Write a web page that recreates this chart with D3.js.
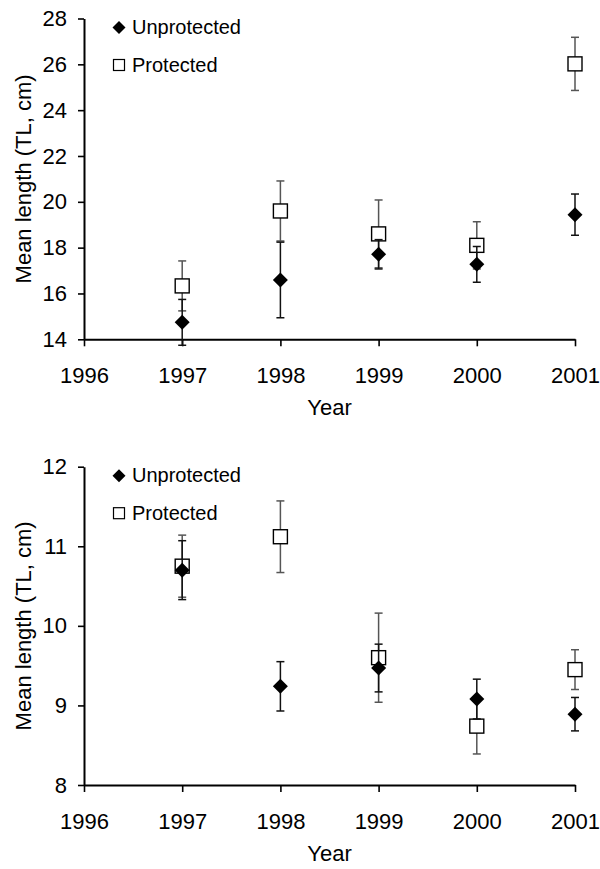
<!DOCTYPE html>
<html>
<head>
<meta charset="utf-8">
<script src="https://cdn.jsdelivr.net/npm/d3@7"></script>
<style>
  body { margin: 0; background: #fff; }
  text { font-family: "Liberation Sans", Arial, sans-serif; fill: #000; }
</style>
</head>
<body>
<svg width="600" height="869"></svg>
<script>
// data
var years = [1997, 1998, 1999, 2000, 2001];
var xTicks = [1996, 1997, 1998, 1999, 2000, 2001];

var topUnprot = [14.74, 16.59, 17.71, 17.27, 19.44];
var topUnprotErr = [1.00, 1.65, 0.64, 0.78, 0.90];
var topProt = [16.33, 19.60, 18.60, 18.10, 26.02];
var topProtErr = [1.09, 1.31, 1.48, 1.03, 1.16];
var topTicks = [14, 16, 18, 20, 22, 24, 26, 28];

var botUnprot = [10.70, 9.24, 9.47, 9.08, 8.89];
var botUnprotErr = [0.37, 0.31, 0.30, 0.25, 0.21];
var botProt = [10.75, 11.12, 9.60, 8.74, 9.45];
var botProtErr = [0.39, 0.45, 0.56, 0.35, 0.25];
var botTicks = [8, 9, 10, 11, 12];

var svg = d3.select("svg");

//diamond marker shape
function diamond(r) {
  return "M0," + (-r) + "L" + r + ",0L0," + r + "L" + (-r) + ",0Z";
}

function panel(opt) {
  var x = d3.scaleLinear().domain([1996, 2001]).range([84, 575]);
  var y = d3.scaleLinear().domain(opt.yDomain).range(opt.yRange);
  var g = svg.append("g");

  //x axis
  var xa = g.append("g")
    .attr("transform", "translate(0," + opt.yRange[0] + ")")
    .call(d3.axisBottom(x).tickValues(xTicks).tickFormat(d3.format("d"))
      .tickSizeInner(7).tickSizeOuter(0).tickPadding(21));
  //y axis
  var ya = g.append("g")
    .attr("transform", "translate(84,0)")
    .call(d3.axisLeft(y).tickValues(opt.ticks).tickFormat(d3.format("d"))
      .tickSizeInner(6).tickSizeOuter(0).tickPadding(11));

  [xa, ya].forEach(function(a) {
    a.select(".domain").attr("stroke", "#000").attr("stroke-width", 2);
    a.selectAll(".tick line").attr("stroke", "#000").attr("stroke-width", 1.6);
    a.selectAll(".tick text").style("font-size", "22px").attr("fill", "#000");
  });

  //axis titles
  g.append("text")
    .attr("x", x(1998.5))
    .attr("y", opt.yRange[0] + 76)
    .attr("text-anchor", "middle")
    .style("font-size", "22px")
    .text("Year");
  g.append("text")
    .attr("transform", "translate(31," + (opt.yRange[0] + opt.yRange[1]) / 2 + ") rotate(-90)")
    .attr("text-anchor", "middle")
    .style("font-size", "22px")
    .text("Mean length (TL, cm)");

  function errBars(vals, errs, color) {
    var eb = g.append("g").attr("stroke", color).attr("stroke-width", 1.5);
    years.forEach(function(yr, i) {
      var lo = y(vals[i] - errs[i]), hi = y(vals[i] + errs[i]), cx = x(yr);
      eb.append("line").attr("x1", cx).attr("x2", cx).attr("y1", lo).attr("y2", hi);
      eb.append("line").attr("x1", cx - 4).attr("x2", cx + 4).attr("y1", lo).attr("y2", lo);
      eb.append("line").attr("x1", cx - 4).attr("x2", cx + 4).attr("y1", hi).attr("y2", hi);
    });
  }

  //protected: open squares
  errBars(opt.prot, opt.protErr, "#555");
  g.selectAll(".sq").data(years).enter().append("rect")
    .attr("x", function(d) { return x(d) - 7; })
    .attr("y", function(d, i) { return y(opt.prot[i]) - 7; })
    .attr("width", 14).attr("height", 14)
    .attr("fill", "#fff").attr("stroke", "#000").attr("stroke-width", 1.4);

  //unprotected: filled diamonds
  errBars(opt.unprot, opt.unprotErr, "#111");
  g.selectAll(".dm").data(years).enter().append("path")
    .attr("transform", function(d, i) { return "translate(" + x(d) + "," + y(opt.unprot[i]) + ")"; })
    .attr("d", diamond(7.5))
    .attr("fill", "#000");

  //legend
  var top = opt.yRange[1];
  var lg = g.append("g").attr("transform", "translate(119," + top + ")");
  lg.append("path").attr("transform", "translate(0,9)").attr("d", diamond(6.5)).attr("fill", "#000");
  lg.append("text").attr("x", 13).attr("y", 15.5).style("font-size", "20px").text("Unprotected");
  lg.append("rect").attr("x", -5.5).attr("y", 41).attr("width", 11).attr("height", 11)
    .attr("fill", "#fff").attr("stroke", "#000").attr("stroke-width", 1.2);
  lg.append("text").attr("x", 13).attr("y", 53).style("font-size", "20px").text("Protected");
}

panel({
  yDomain: [14, 28], yRange: [339.3, 18.5], ticks: topTicks,
  unprot: topUnprot, unprotErr: topUnprotErr, prot: topProt, protErr: topProtErr
});
panel({
  yDomain: [8, 12], yRange: [785, 466.7], ticks: botTicks,
  unprot: botUnprot, unprotErr: botUnprotErr, prot: botProt, protErr: botProtErr
});
</script>
</body>
</html>
